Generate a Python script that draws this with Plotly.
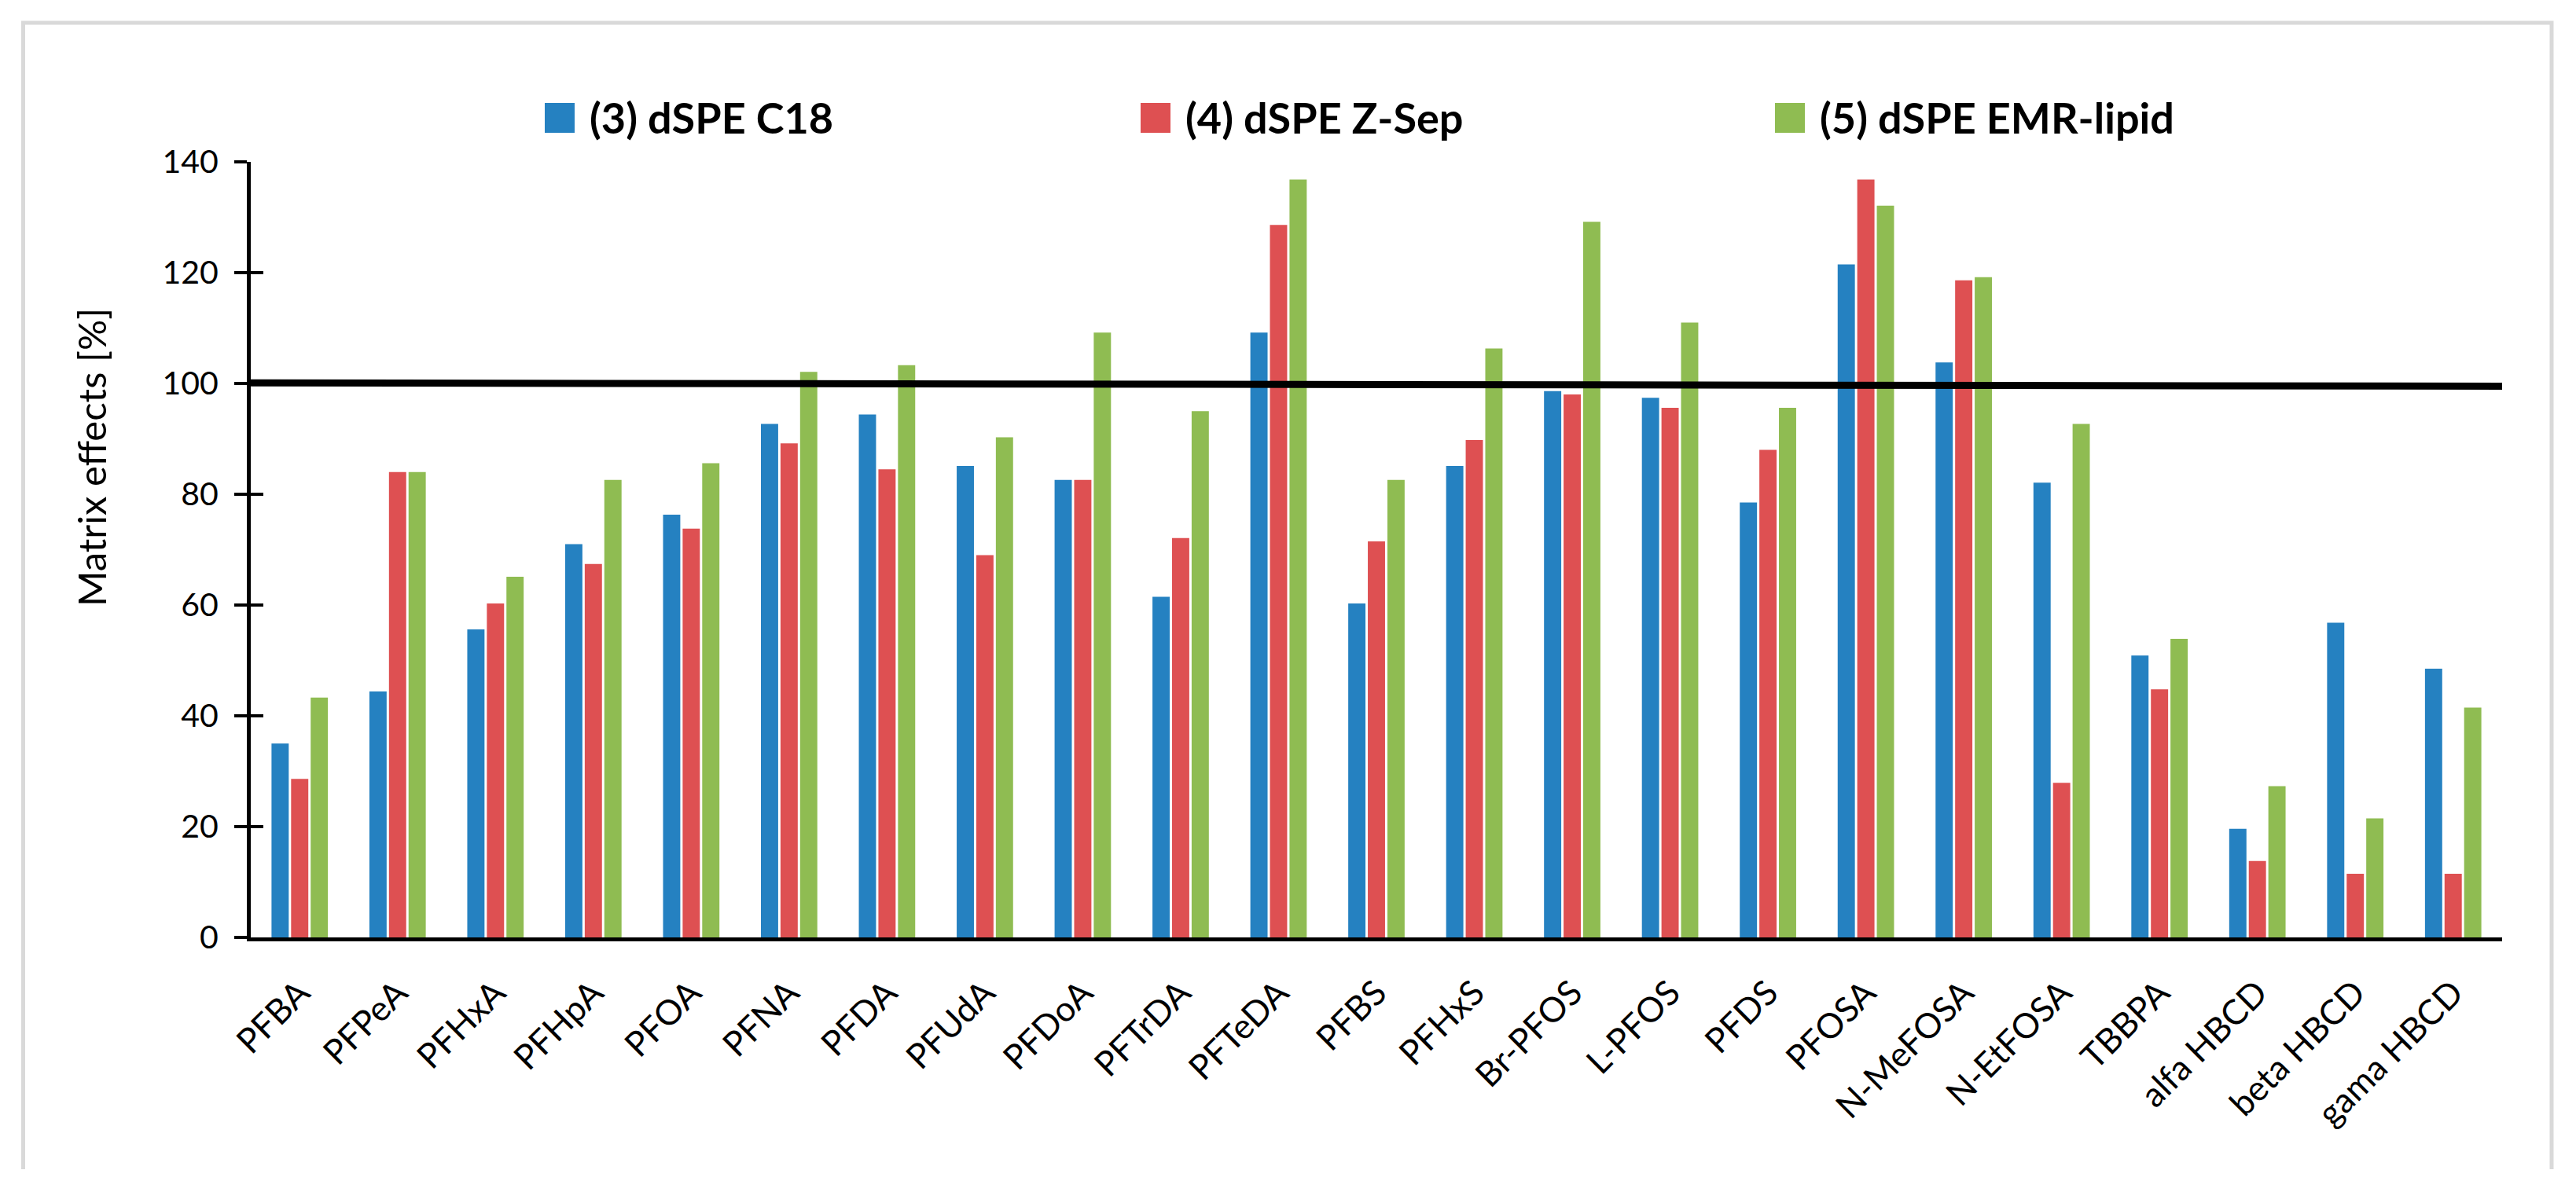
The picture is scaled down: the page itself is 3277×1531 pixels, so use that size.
import plotly.graph_objects as go

# ---------------- data ----------------
categories = ["PFBA", "PFPeA", "PFHxA", "PFHpA", "PFOA", "PFNA", "PFDA", "PFUdA",
              "PFDoA", "PFTrDA", "PFTeDA", "PFBS", "PFHxS", "Br-PFOS", "L-PFOS",
              "PFDS", "PFOSA", "N-MeFOSA", "N-EtFOSA", "TBBPA", "alfa HBCD",
              "beta HBCD", "gama HBCD"]

series_names = ["(3) dSPE C18", "(4) dSPE Z-Sep", "(5) dSPE EMR-lipid"]

c18 = [35.0, 44.4, 55.6, 71.0, 76.3, 92.7, 94.4, 85.1, 82.6, 61.5, 109.2, 60.3,
       85.1, 98.6, 97.4, 78.5, 121.5, 103.8, 82.1, 50.9, 19.6, 56.8, 48.5]
zsep = [28.6, 84.0, 60.3, 67.4, 73.8, 89.2, 84.5, 69.0, 82.6, 72.1, 128.6, 71.5,
        89.8, 98.0, 95.6, 88.0, 136.8, 118.6, 27.9, 44.8, 13.8, 11.5, 11.5]
emr = [43.3, 84.0, 65.1, 82.6, 85.6, 102.1, 103.3, 90.3, 109.2, 95.0, 136.8, 82.6,
       106.3, 129.2, 111.0, 95.6, 132.1, 119.2, 92.7, 53.9, 27.3, 21.5, 41.5]

y_tick_vals = [0, 20, 40, 60, 80, 100, 120, 140]
ref_line_y = [100.1, 99.5]          # the 100 % reference line (left end, right end)
y_title = "Matrix effects [%]"

colors = ["#2581C1", "#DE5052", "#8FBC52"]

# ---------------- layout geometry (pixels) ----------------
W, H = 3277, 1531
L, R, T, B = 319, 94, 206, 338
PW, PH = W - L - R, H - T - B


def px(xp):
    return (xp - L) / PW


def py(yp):
    return (H - B - yp) / PH


n = len(categories)
fig = go.Figure()
for name, vals, col in zip(series_names, [c18, zsep, emr], colors):
    fig.add_trace(go.Bar(x=categories, y=vals, name=name, marker_color=col,
                         marker_line_width=0, showlegend=False))

# reference line at 100 % (drawn on a hidden numeric overlay x-axis spanning the categories)
fig.add_trace(go.Scatter(x=[-0.5, n - 0.5], y=ref_line_y, mode="lines",
                         line=dict(color="black", width=9), showlegend=False,
                         hoverinfo="skip", xaxis="x2", yaxis="y2"))

fig.update_layout(
    width=W, height=H,
    margin=dict(l=L, r=R, t=T, b=B),
    paper_bgcolor="white", plot_bgcolor="white",
    barmode="group", bargap=0.4, bargroupgap=0.12,
    font=dict(family="Lato", color="black"),
    xaxis=dict(
        type="category", range=[-0.5, n - 0.5],
        showline=True, linecolor="black", linewidth=5,
        ticks="", showgrid=False, zeroline=False,
        tickangle=-45, ticklabelstandoff=22,
        tickfont=dict(family="Lato", size=44, color="black"),
    ),
    xaxis2=dict(range=[-0.5, n - 0.5], overlaying="x", anchor="y2",
                visible=False, showgrid=False, zeroline=False),
    yaxis=dict(
        range=[0, 140], tickvals=y_tick_vals, showline=True, linecolor="black",
        linewidth=5, ticks="outside", ticklen=16, tickwidth=4, tickcolor="black",
        showgrid=False, zeroline=False, ticklabelstandoff=12,
        tickfont=dict(family="Lato", size=41, color="black"),
    ),
    yaxis2=dict(
        range=[0, 140], tickvals=y_tick_vals, overlaying="y", side="left",
        anchor="x2", showline=False, ticks="inside", ticklen=16, tickwidth=4,
        tickcolor="black", showticklabels=False, showgrid=False, zeroline=False,
    ),
)

# y-axis title
fig.add_annotation(text=y_title, textangle=-90, x=px(116), y=py(582),
                   xref="paper", yref="paper", showarrow=False,
                   font=dict(family="Lato", size=49, color="black"),
                   xanchor="center", yanchor="middle")

# legend (large square keys as in the reference)
legend_marker_left = [693, 1451, 2258]
for name, col, mx in zip(series_names, colors, legend_marker_left):
    fig.add_shape(type="rect", xref="paper", yref="paper",
                  x0=px(mx), x1=px(mx + 38), y0=py(169), y1=py(131),
                  fillcolor=col, line_width=0)
    fig.add_annotation(text="<b>" + name + "</b>", x=px(mx + 55), y=py(150),
                       xref="paper", yref="paper", showarrow=False,
                       xanchor="left", yanchor="middle",
                       font=dict(family="Lato", size=54, color="black"))

# outer light-grey frame (open at the bottom)
fig.add_shape(type="path", xref="paper", yref="paper",
              path=f"M {px(29.5)},{py(1488)} L {px(29.5)},{py(29)} L {px(3246)},{py(29)} L {px(3246)},{py(1488)}",
              line=dict(color="#D9D9D9", width=5))

fig.write_html("out.html", config={"displayModeBar": False},
               post_script="document.body.style.margin='0';")
